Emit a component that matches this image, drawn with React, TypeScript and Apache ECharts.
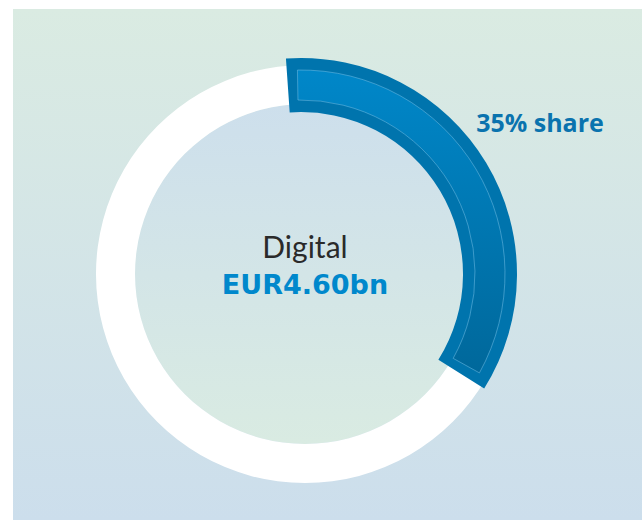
import React, { useEffect, useRef } from "react";
import * as echarts from "echarts";

const segmentName = "Digital";
const segmentValue = "EUR4.60bn";
const shareValues = [35, 65];
const shareLabel = "35% share";

export default function App() {
  const ref = useRef<HTMLDivElement>(null);
  useEffect(() => {
    if (!ref.current) return;
    const chart = echarts.init(ref.current, null, { renderer: "svg" });
    const total = shareValues.reduce((a, b) => a + b, 0);
    const ringCenter = [305, 274];
    const blueCenter = [301, 274];
    chart.setOption({
      animation: false,
      graphic: [
        {
          type: "rect",
          z: -10,
          shape: { x: 13, y: 9, width: 629, height: 511 },
          style: {
            fill: {
              type: "linear", x: 0, y: 0, x2: 0, y2: 1,
              colorStops: [
                { offset: 0, color: "#DAEBE2" },
                { offset: 1, color: "#CCDEEC" },
              ],
            },
          },
          silent: true,
        },
        {
          type: "text",
          z: 100,
          style: {
            text: segmentName,
            x: 305,
            y: 246,
            textAlign: "center",
            textVerticalAlign: "middle",
            fontFamily: "Lato",
            fontSize: 30,
            fill: "#2a2a2a",
          },
        },
        {
          type: "text",
          z: 100,
          style: {
            text: segmentValue,
            x: 305,
            y: 284,
            textAlign: "center",
            textVerticalAlign: "middle",
            fontFamily: "DejaVu Sans",
            fontWeight: "bold",
            fontSize: 27,
            fill: "#0088CC",
          },
        },
        {
          type: "text",
          z: 100,
          style: {
            text: shareLabel,
            x: 540,
            y: 122,
            textAlign: "center",
            textVerticalAlign: "middle",
            fontFamily: "Open Sans",
            fontWeight: "bold",
            fontSize: 25,
            fill: "#0A73AE",
          },
        },
      ],
      series: [
        {
          type: "pie",
          silent: true,
          center: ringCenter,
          radius: [0, 170],
          label: { show: false },
          labelLine: { show: false },
          data: [
            {
              value: total,
              itemStyle: {
                color: {
                  type: "linear", x: 0, y: 0, x2: 0, y2: 1,
                  colorStops: [
                    { offset: 0, color: "#CDDFEC" },
                    { offset: 1, color: "#D9EBE2" },
                  ],
                },
              },
            },
          ],
        },
        {
          type: "pie",
          silent: true,
          center: ringCenter,
          radius: [170, 209],
          label: { show: false },
          labelLine: { show: false },
          data: [{ value: total, itemStyle: { color: "#FFFFFF" } }],
        },
        {
          type: "pie",
          silent: true,
          center: blueCenter,
          radius: [162, 216],
          startAngle: 94,
          clockwise: true,
          label: { show: false },
          labelLine: { show: false },
          data: [
            { value: shareValues[0], itemStyle: { color: "#0074AD" } },
            { value: shareValues[1], itemStyle: { color: "rgba(0,0,0,0)" } },
          ],
        },
        {
          type: "pie",
          silent: true,
          center: blueCenter,
          radius: [174, 204],
          startAngle: 94,
          padAngle: 6,
          clockwise: true,
          label: { show: false },
          labelLine: { show: false },
          data: [
            {
              value: shareValues[0],
              itemStyle: {
                color: {
                  type: "linear", x: 0, y: 0, x2: 0, y2: 1,
                  colorStops: [
                    { offset: 0, color: "#0087C9" },
                    { offset: 1, color: "#00689B" },
                  ],
                },
                borderColor: "rgba(110,185,225,0.55)",
                borderWidth: 1,
              },
            },
            { value: shareValues[1], itemStyle: { color: "rgba(0,0,0,0)", borderWidth: 0 } },
          ],
        },
      ],
    });
    return () => chart.dispose();
  }, []);
  return (
    <div
      ref={ref}
      style={{ position: "fixed", left: 0, top: 0, width: 642, height: 520, background: "#FFFFFF" }}
    />
  );
}
